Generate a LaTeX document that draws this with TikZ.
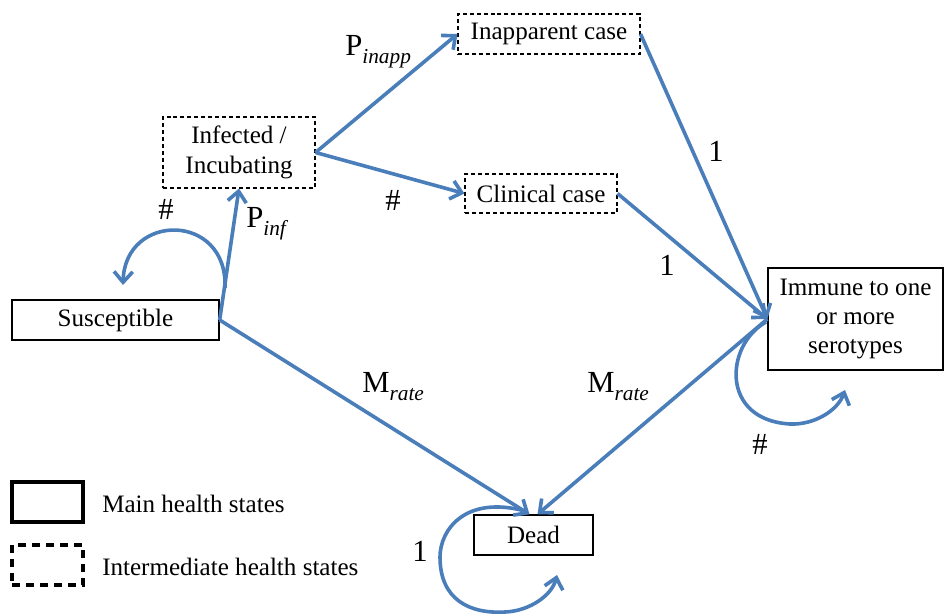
\documentclass[tikz,border=0pt]{standalone}
\usepackage{fontspec}
\setmainfont{Liberation Serif}
\usetikzlibrary{arrows.meta}
\definecolor{flow}{RGB}{74,126,187}
\begin{document}
\begin{tikzpicture}[x=0.75pt,y=-0.75pt,
  every node/.style={font=\fontsize{18.8}{22}\selectfont},
  mainbox/.style={draw=black, line width=1pt, inner sep=0pt, align=center},
  interbox/.style={draw=black, line width=0.8pt, dash pattern=on 3pt off 2.2pt, inner sep=0pt, align=center},
  legmain/.style={draw=black, line width=2.4pt, inner sep=0pt, minimum width=53.25pt, minimum height=30pt},
  leginter/.style={draw=black, line width=2.4pt, dash pattern=on 6pt off 4.5pt, inner sep=0pt, minimum width=53.25pt, minimum height=30pt},
  flowline/.style={draw=flow, line width=2.7pt, -{Straight Barb[length=8pt,width=14pt]}},
  lbl/.style={font=\fontsize{23}{26}\selectfont, inner sep=0pt},
  num/.style={font=\fontsize{23}{26}\selectfont, inner sep=0pt},
  legtext/.style={inner sep=0pt, anchor=base west}
]
\useasboundingbox (0,0) rectangle (945,614);

% boxes
\node[interbox, minimum width=136.5pt, minimum height=30pt] (inapp) at (549,34) {Inapparent case};
\node[interbox, minimum width=114pt, minimum height=53.25pt] (inf) at (239,152.5) {Infected /\\Incubating};
\node[interbox, minimum width=114pt, minimum height=29.25pt] (clin) at (541,193.5) {Clinical case};
\node[mainbox, minimum width=155.25pt, minimum height=30pt] (sus) at (115.5,320) {Susceptible};
\node[mainbox, minimum width=131.25pt, minimum height=76.5pt] (imm) at (855.5,319) {Immune to one\\or more\\serotypes};
\node[mainbox, minimum width=89.25pt, minimum height=30pt] (dead) at (533.5,535) {Dead};

% legend
\node[legmain] (lm) at (47.5,502) {};
\node[leginter] (li) at (47.5,565) {};
\node[legtext] (lmt) at (102,512) {Main health states};
\node[legtext] (lit) at (102,575) {Intermediate health states};

% connectors
\draw[flowline] (sus.east) -- (inf.south);
\draw[flowline] (inf.east) -- (inapp.west);
\draw[flowline] (inf.east) -- (clin.west);
\draw[flowline] (inapp.east) -- (imm.west);
\draw[flowline] (clin.east) -- (imm.west);
\draw[flowline] (sus.east) -- ([xshift=-3pt]dead.north);
\draw[flowline] (imm.west) -- ([xshift=3pt]dead.north);

% loops
\coordinate (sl1) at (225,288);
\coordinate (sl2) at (123,285);
\draw[flowline] (sl1) .. controls (228,212) and (125,212) .. (sl2);

\coordinate (il1) at (766,322);
\coordinate (il2) at (790,424);
\coordinate (il3) at (845,390);
\draw[flowline] (il1) .. controls (725,345) and (720,420) .. (il2) .. controls (815,425) and (838,410) .. (il3);

\coordinate (dl1) at (525,511);
\coordinate (dl2) at (440,557);
\coordinate (dl3) at (505,612);
\coordinate (dl4) at (557,575);
\draw[flowline] (dl1) .. controls (465,495) and (440,530) .. (dl2) .. controls (440,600) and (470,614) .. (dl3) .. controls (530,611) and (552,595) .. (dl4);

% labels
\node[lbl, anchor=base west] (pinapp) at (345,55) {P\raisebox{-6pt}{\fontsize{16}{16}\selectfont\itshape inapp}};
\node[lbl, anchor=base west] (pinf) at (246,227) {P\raisebox{-6pt}{\fontsize{16}{16}\selectfont\itshape inf}};
\node[lbl, anchor=base west] (mr1) at (362,392) {M\raisebox{-6pt}{\fontsize{16}{16}\selectfont\itshape rate}};
\node[lbl, anchor=base west] (mr2) at (587,392) {M\raisebox{-6pt}{\fontsize{16}{16}\selectfont\itshape rate}};
\node[num] (h1) at (166,209) {\#};
\node[num] (h2) at (393,200) {\#};
\node[num] (h3) at (760,444) {\#};
\node[num] (o1) at (716,151) {1};
\node[num] (o2) at (667,265) {1};
\node[num] (o3) at (420,551) {1};
\end{tikzpicture}
\end{document}
